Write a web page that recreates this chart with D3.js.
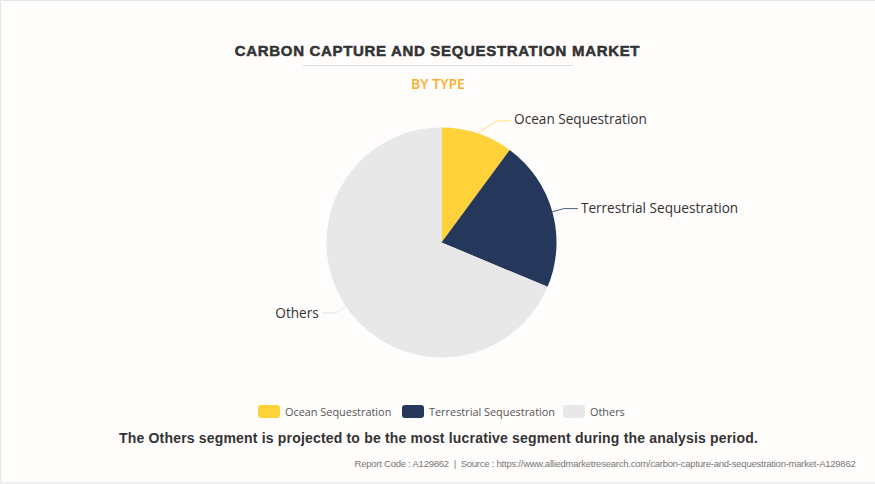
<!DOCTYPE html>
<html><head><meta charset="utf-8">
<script src="https://cdn.jsdelivr.net/npm/d3@7/dist/d3.min.js"></script>
<style>html,body{margin:0;padding:0;background:#fffdfb;overflow:hidden}svg{display:block}</style>
</head><body><svg id="c" width="875" height="484"></svg>
<script>
const categories=["Ocean Sequestration","Terrestrial Sequestration","Others"];
const values=[10.1,21.2,68.7];
const colors=["#ffd23a","#25385b","#e8e8e8"];
const title="CARBON CAPTURE AND SEQUESTRATION MARKET";
const subtitle="BY TYPE";
const note="The Others segment is projected to be the most lucrative segment during the analysis period.";
const source="Report Code : A129862  |  Source : https://www.alliedmarketresearch.com/carbon-capture-and-sequestration-market-A129862";

const svg=d3.select("#c");
svg.append("rect").attr("width",875).attr("height",484).attr("fill","#fffdfb");
svg.append("path").attr("d","M0.5,484V0.5H875").attr("fill","none").attr("stroke","#e6e6e6").attr("stroke-width",1);
svg.append("rect").attr("x",0).attr("y",482).attr("width",875).attr("height",2).attr("fill","#efefef");

svg.append("text").attr("x",437.5).attr("y",56).attr("text-anchor","middle")
 .attr("font-family","Liberation Sans").attr("font-weight",700).attr("font-size",15)
 .attr("letter-spacing",0.67).attr("fill","#333").attr("stroke","#333").attr("stroke-width",0.5).text(title);
svg.append("line").attr("x1",303).attr("x2",573).attr("y1",65.5).attr("y2",65.5).attr("stroke","#ddd");
svg.append("text").attr("x",438).attr("y",89).attr("text-anchor","middle")
 .attr("font-family","Open Sans").attr("font-weight",600).attr("font-size",14).attr("fill","#fbad2c").text(subtitle);

const cx=441.5,cy=242.5,R=115;
const pie=d3.pie().sort(null).value(d=>d)(values);
const arc=d3.arc().innerRadius(0).outerRadius(R);
const g=svg.append("g").attr("transform",`translate(${cx},${cy})`);
g.selectAll("path").data(pie).join("path").attr("d",arc).attr("fill",(d,i)=>colors[i]);

const lineCols=["#ffe07f","#4d5d7c","#e6e6e6"];
const lab=d3.arc().innerRadius(R).outerRadius(R);
const lab2=d3.arc().innerRadius(R+12).outerRadius(R+12);
const elbowShiftX=[16,0,0],elbowShiftY=[-1,0,0],textNudge=[-2,0,0];
pie.forEach((d,i)=>{
  const a=lab.centroid(d),c=lab2.centroid(d);
  const b=[c[0]+elbowShiftX[i],c[1]+elbowShiftY[i]];
  const right=a[0]>0;
  const ex=b[0]+(right?14:-14);
  g.append("polyline").attr("points",[a,b,[ex,b[1]]].map(p=>p.join(",")).join(" "))
   .attr("fill","none").attr("stroke",lineCols[i]).attr("stroke-width",1);
  g.append("text").attr("x",ex+(right?3:-3)).attr("y",b[1]+textNudge[i]).attr("dy","0.35em")
   .attr("text-anchor",right?"start":"end").attr("font-family","Open Sans").attr("font-size",13.6)
   .attr("fill","#333").text(categories[i]);
});

const legX=[258,402,563],legT=[285,429,590];
categories.forEach((c,i)=>{
  svg.append("rect").attr("x",legX[i]).attr("y",405).attr("width",22).attr("height",13).attr("rx",3).attr("fill",colors[i]);
  svg.append("text").attr("x",legT[i]).attr("y",415.5).attr("font-family","Open Sans").attr("font-size",10.9).attr("fill","#555").text(c);
});

svg.append("text").attr("x",438.5).attr("y",443).attr("text-anchor","middle")
 .attr("font-family","Liberation Sans").attr("font-weight",700).attr("font-size",14).attr("letter-spacing",0.18).attr("fill","#333").text(note);
svg.append("text").attr("x",855.5).attr("y",466.5).attr("text-anchor","end").style("white-space","pre")
 .attr("font-family","Liberation Sans").attr("font-size",9.5).attr("letter-spacing",-0.24).attr("fill","#777").text(source);
</script></body></html>
